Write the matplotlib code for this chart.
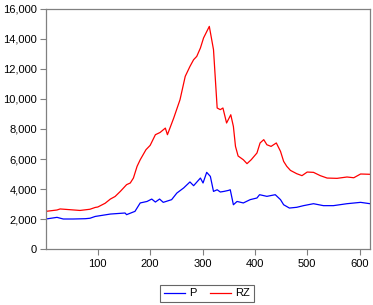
import matplotlib
matplotlib.use("Agg")
import matplotlib.pyplot as plt

plt.rcParams['font.family'] = ['Liberation Sans', 'DejaVu Sans']

# RZ series (index, value)
rz_x = [1, 22, 28, 47, 66, 85, 95, 100, 114, 124, 133, 143, 155, 162, 168, 175,
        181, 192, 200, 210, 219, 229, 233, 245, 257, 267, 276, 283, 289, 296,
        302, 313, 321, 328, 334, 339, 346, 354, 359, 363, 368, 378, 385, 393,
        404, 410, 417, 423, 431, 441, 449, 455, 461, 468, 480, 490, 500, 512,
        525, 538, 557, 576, 589, 602, 620]
rz_y = [2510, 2600, 2670, 2620, 2570, 2650, 2770, 2800, 3050, 3330, 3500, 3840,
        4290, 4400, 4730, 5510, 5950, 6620, 6910, 7620, 7770, 8060, 7620, 8730,
        9950, 11510, 12170, 12620, 12840, 13400, 14070, 14840, 13290, 9400,
        9290, 9400, 8400, 8950, 8170, 6840, 6200, 5950, 5690, 5950, 6400, 7070,
        7290, 6950, 6840, 7070, 6510, 5840, 5510, 5240, 5020, 4890, 5130, 5110,
        4890, 4730, 4710, 4800, 4750, 5000, 4980]

# P series
p_x = [1, 22, 34, 53, 76, 85, 95, 124, 152, 155, 171, 181, 194, 203, 210, 218,
       225, 241, 251, 264, 276, 283, 296, 301, 308, 315, 321, 328, 334, 341,
       350, 353, 359, 366, 378, 391, 404, 409, 423, 439, 449, 455, 466, 480,
       493, 512, 531, 550, 576, 602, 620]
p_y = [2000, 2110, 2000, 2000, 2020, 2050, 2170, 2330, 2400, 2290, 2510, 3070,
       3170, 3330, 3130, 3330, 3110, 3290, 3730, 4070, 4470, 4220, 4730, 4400,
       5110, 4840, 3840, 3950, 3800, 3840, 3910, 3950, 2950, 3170, 3070, 3290,
       3400, 3620, 3510, 3620, 3290, 2950, 2730, 2780, 2890, 3020, 2890, 2890,
       3020, 3110, 3020]

fig = plt.figure(figsize=(3.73, 3.05), dpi=100)
ax = fig.add_axes([0.1233, 0.1836, 0.8687, 0.7869])

ax.plot(p_x, p_y, color='#0000ff', linewidth=0.9, label='P')
ax.plot(rz_x, rz_y, color='#ff0000', linewidth=0.9, label='RZ')

ax.set_xlim(1, 620)
ax.set_ylim(0, 16000)
ax.set_xticks([100, 200, 300, 400, 500, 600])
ax.set_yticks(range(0, 16001, 2000))
ax.set_yticklabels([f"{v:,}" for v in range(0, 16001, 2000)])

for s in ax.spines.values():
    s.set_color('#808080')
    s.set_linewidth(0.9)
ax.tick_params(axis='both', direction='out', length=4, width=0.8,
               color='#808080', labelsize=8, labelcolor='black', pad=2.5)
ax.tick_params(axis='x', pad=3.5)

leg = fig.legend(loc='center', bbox_to_anchor=(0.555, 0.038), ncol=2,
                 fontsize=8, frameon=True, fancybox=False, handlelength=1.9,
                 columnspacing=1.2, handletextpad=0.4, borderpad=0.3,
                 borderaxespad=0)
leg.get_frame().set_edgecolor('#404040')
leg.get_frame().set_linewidth(0.8)

fig.savefig('out.png', dpi=100)
